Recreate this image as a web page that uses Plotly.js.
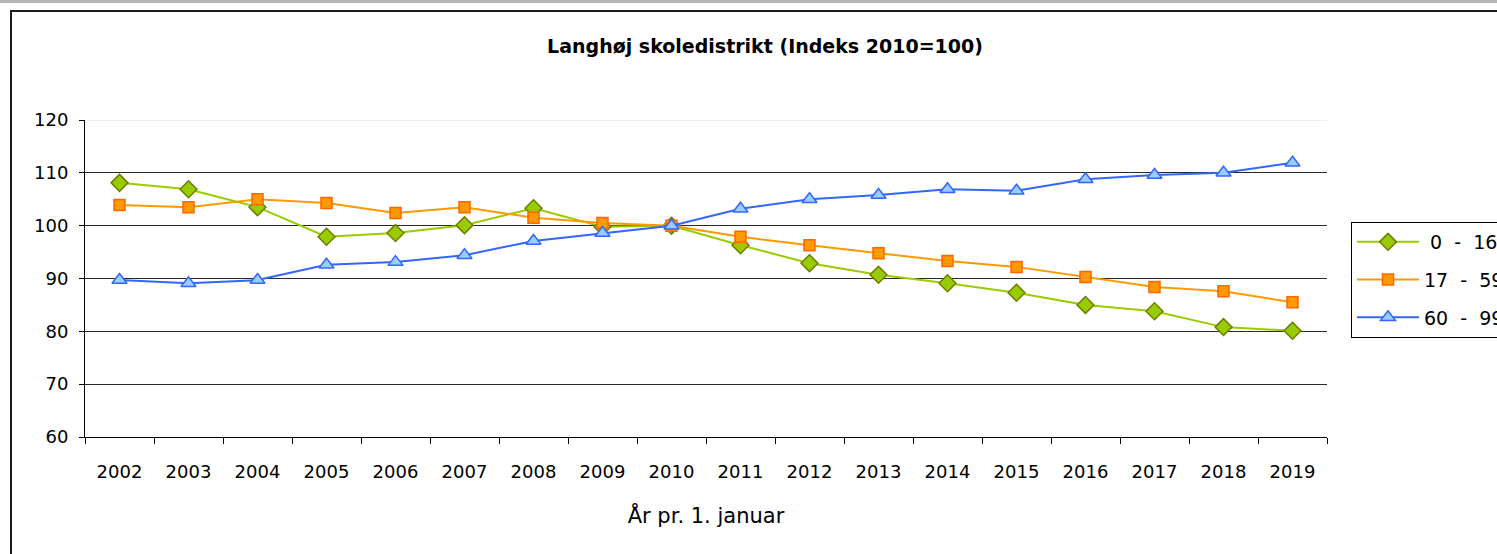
<!DOCTYPE html>
<html>
<head>
<meta charset="utf-8">
<script src="https://cdn.plot.ly/plotly-3.0.1.min.js"></script>
<style>
html,body{margin:0;padding:0;overflow:hidden;background:#fff;}
#chart{width:1560px;height:554px;}
</style>
</head>
<body>
<div id="chart"></div>
<script>
const years = ['2002','2003','2004','2005','2006','2007','2008','2009','2010','2011','2012','2013','2014','2015','2016','2017','2018','2019'];
const age0_16  = [108.1,106.9,103.5,97.9,98.6,100.1,103.3,99.8,100,96.3,92.9,90.7,89.1,87.3,85.0,83.8,80.8,80.1];
const age17_59 = [103.9,103.5,105.0,104.3,102.4,103.5,101.5,100.5,100,97.9,96.3,94.8,93.3,92.2,90.3,88.4,87.6,85.5];
const age60_99 = [89.7,89.1,89.7,92.6,93.1,94.4,97.1,98.6,100,103.2,105.0,105.8,106.9,106.6,108.8,109.6,110.0,111.9];
const seriesNames = [' 0  -  16', '17  -  59', '60  -  99'];
const titleText = 'Langhøj skoledistrikt (Indeks 2010=100)';
const xTitle = 'År pr. 1. januar';

const FONT = 'DejaVu Sans, Liberation Sans, sans-serif';

const traces = [
  {x: years, y: age0_16, name: seriesNames[0], type: 'scatter', mode: 'lines+markers', legendgroup: 'a',
   line: {color: '#99cc00', width: 2},
   marker: {symbol: 'diamond', size: 13, color: '#99cc00', line: {color: '#6f7d00', width: 1.5}}},
  {x: years, y: age17_59, name: seriesNames[1], type: 'scatter', mode: 'lines+markers', legendgroup: 'b',
   line: {color: '#ff9900', width: 2},
   marker: {symbol: 'square', size: 11, color: '#ff9900', line: {color: '#ff6600', width: 1.5}}},
  {x: years, y: age60_99, name: seriesNames[2], type: 'scatter', mode: 'lines+markers', legendgroup: 'c',
   line: {color: '#3366ff', width: 2},
   marker: {symbol: 'triangle-up', size: 13, color: '#99ccff', line: {color: '#3366ff', width: 1.5}}}
];

// pixel helpers for frame shapes (plot area: x 85..1327, y 120..437)
const L = 85, R = 1327, T = 120, B = 437;
const px = v => (v - L) / (R - L);
const py = v => 1 + (T - v) / (B - T);

const layout = {
  width: 1560, height: 554,
  margin: {l: L, r: 1560 - R, t: T, b: 554 - B, pad: 0},
  paper_bgcolor: '#ffffff', plot_bgcolor: '#ffffff',
  font: {family: FONT, size: 18, color: '#000'},
  title: {text: '<b>' + titleText + '</b>', x: 765 / 1560, xanchor: 'center', xref: 'container',
          y: 1 - 46 / 554, yanchor: 'middle', yref: 'container', font: {family: FONT, size: 19, color: '#000'}},
  showlegend: true,
  legend: {x: px(1351), xanchor: 'left', y: py(222), yanchor: 'top', bordercolor: '#000', borderwidth: 1,
           bgcolor: '#fff', font: {family: FONT, size: 19, color: '#000'}, traceorder: 'grouped',
           tracegroupgap: 10, itemwidth: 62},
  xaxis: {type: 'category', categoryorder: 'array', categoryarray: years, range: [-0.5, 17.5], autorange: false,
          showline: true, linecolor: '#000', linewidth: 1, ticks: 'outside', tickson: 'boundaries',
          ticklen: 6, tickcolor: '#000', showgrid: false, zeroline: false,
          tickfont: {family: FONT, size: 18}, ticklabelstandoff: 18,
          title: {text: xTitle, font: {family: FONT, size: 21}, standoff: 27}},
  yaxis: {range: [60, 120], dtick: 10, tick0: 60, showline: true, linecolor: '#000', linewidth: 1,
          ticks: 'outside', ticklen: 5, tickcolor: '#000', showgrid: true, gridcolor: '#2a2a2a', gridwidth: 1,
          zeroline: false, tickfont: {family: FONT, size: 18}, ticklabelstandoff: 7},
  shapes: [
    {type: 'line', xref: 'paper', yref: 'y', x0: 0, x1: 1, y0: 120, y1: 120, line: {color: '#dddddd', width: 1}, layer: 'above'},
    {type: 'rect', xref: 'paper', yref: 'paper', x0: px(11), x1: px(1600), y0: py(11), y1: py(700),
     line: {color: '#1a1a1a', width: 2}, fillcolor: 'rgba(0,0,0,0)', layer: 'below'},
    {type: 'rect', xref: 'paper', yref: 'paper', x0: px(-10), x1: px(1600), y0: py(0), y1: py(3),
     line: {width: 0}, fillcolor: '#b4b4b4', layer: 'below'}
  ]
};

Plotly.newPlot('chart', traces, layout, {displayModeBar: false, staticPlot: true});
</script>
</body>
</html>
